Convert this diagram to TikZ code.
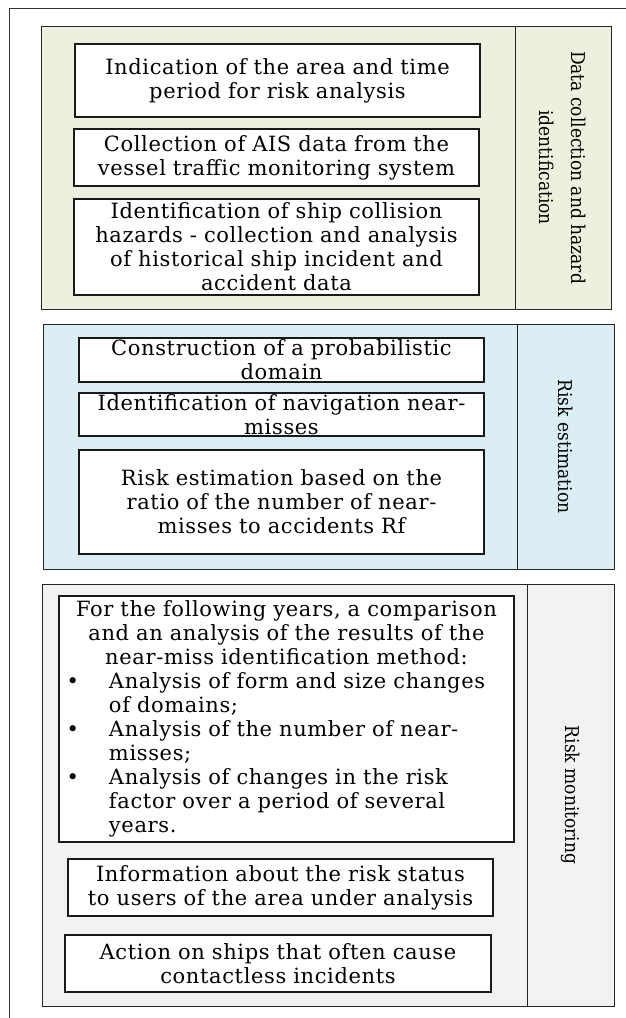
\documentclass[tikz,border=0pt]{standalone}
\usepackage{fontspec}
\setmainfont{DejaVu Serif}[LetterSpace=3]
\newfontfamily\labelfont{DejaVu Serif Condensed}
\definecolor{datagreen}{HTML}{EBF1DE}
\definecolor{riskblue}{HTML}{DAEEF3}
\definecolor{monitorgray}{HTML}{F2F2F2}
\tikzstyle{frame line}=[draw=black!80,line width=1pt]
\tikzstyle{stage}=[draw=black!85,line width=1pt,inner sep=0pt]
\tikzstyle{stage label}=[stage,rotate=-90,align=center,font=\labelfont\fontsize{19}{32}\selectfont]
\tikzstyle{step box}=[draw=black!90,fill=white,line width=1.2pt,inner xsep=0pt,inner ysep=0pt]

\begin{document}
\begin{tikzpicture}[x=1pt,y=-1pt,font=\fontsize{21}{24}\selectfont]
    \useasboundingbox (0,0) rectangle (626,1018);
    \clip (0,0) rectangle (626,1018);
    \draw[frame line] (9,8) rectangle (660,1040);

    % the three stages
    \foreach \pos/\boxw/\boxh/\name/\colour in {{(278,167.5)/474/283/data/datagreen},
                                               {(280,446.5)/474/245/estim/riskblue},
                                               {(284.5,795)/485/422/monit/monitorgray}}
        \node[stage,fill=\colour,minimum width=\boxw pt,minimum height=\boxh pt] (\name) at \pos {};

    \foreach \pos/\boxh/\boxw/\name/\colour/\txt in {{(563,167.5)/283/96/datalabel/datagreen/{Data collection and hazard\\identification}},
                                                    {(565.5,446.5)/245/97/estimlabel/riskblue/{Risk estimation}},
                                                    {(570.5,795)/422/87/monitlabel/monitorgray/{Risk monitoring}}}
        \node[stage label,fill=\colour,minimum width=\boxh pt,minimum height=\boxw pt] (\name) at \pos {\txt};

    % steps
    \foreach \pos/\boxw/\boxh/\name/\txt in {{(277.5,80.5)/405/73/area/{Indication of the area and time\\period for risk analysis}},
                                            {(276.5,157.5)/405/57/ais/{Collection of AIS data from the\\vessel traffic monitoring system}},
                                            {(276.5,247)/405/96/hazard/{Identification of ship collision\\hazards - collection and analysis\\of historical ship incident and\\accident data}},
                                            {(281.5,360)/405/44/domain/{Construction of a probabilistic\\domain}},
                                            {(281.5,414.5)/405/43/nearmiss/{Identification of navigation near-\\misses}},
                                            {(281.5,502)/405/104/ratio/{Risk estimation based on the\\ratio of the number of near-\\misses to accidents Rf}},
                                            {(280.5,887.5)/425/57/inform/{Information about the risk status\\to users of the area under analysis}},
                                            {(278,963.5)/426/57/action/{Action on ships that often cause\\contactless incidents}}}
        \node[step box,align=center,text width=\boxw pt,minimum height=\boxh pt] (\name) at \pos {\txt};

    \node[step box,text width=455pt,minimum height=246pt] (compare) at (286.5,719) {%
        {\centering For the following years, a comparison\\and an analysis of the results of the\\near-miss identification method:\par}
        \leftskip=50pt
        \noindent\llap{\textbullet\hspace{30pt}}Analysis of form and size changes\\of domains;\par
        \noindent\llap{\textbullet\hspace{30pt}}Analysis of the number of near-\\misses;\par
        \noindent\llap{\textbullet\hspace{30pt}}Analysis of changes in the risk\\factor over a period of several\\years.\par};
\end{tikzpicture}
\end{document}
